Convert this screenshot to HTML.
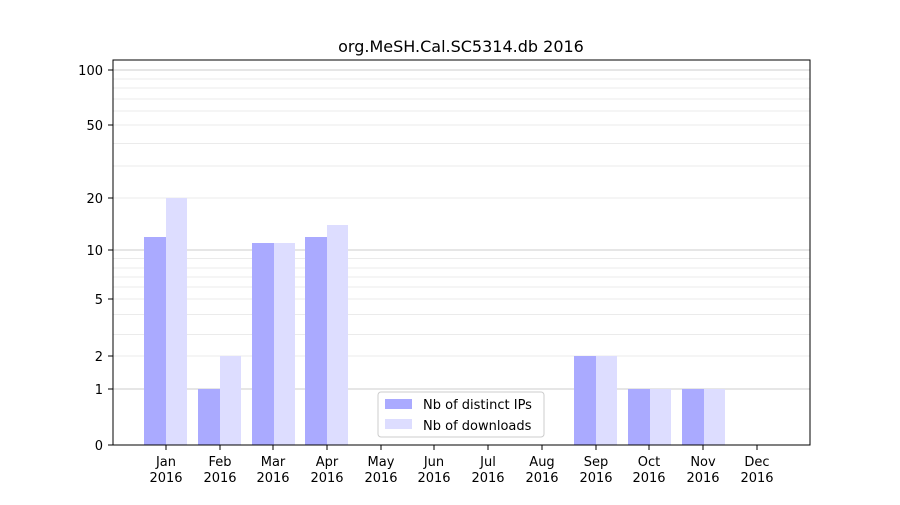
<!DOCTYPE html>
<html><head><meta charset="utf-8"><style>body{margin:0;background:#fff}</style></head><body>
<svg width="900" height="500" xmlns="http://www.w3.org/2000/svg" font-family="DejaVu Sans, Liberation Sans, sans-serif">
<rect width="900" height="500" fill="#fff"/>
<g stroke="#ebebeb" stroke-width="1">
<line x1="113" x2="810" y1="334.5" y2="334.5"/><line x1="113" x2="810" y1="314.5" y2="314.5"/>
<line x1="113" x2="810" y1="287" y2="287"/><line x1="113" x2="810" y1="277" y2="277"/>
<line x1="113" x2="810" y1="268" y2="268"/><line x1="113" x2="810" y1="258.5" y2="258.5"/>
<line x1="113" x2="810" y1="166" y2="166"/><line x1="113" x2="810" y1="143.5" y2="143.5"/>
<line x1="113" x2="810" y1="111" y2="111"/><line x1="113" x2="810" y1="99" y2="99"/>
<line x1="113" x2="810" y1="88" y2="88"/><line x1="113" x2="810" y1="79" y2="79"/>
<line x1="113" x2="810" y1="356" y2="356"/><line x1="113" x2="810" y1="299" y2="299"/>
<line x1="113" x2="810" y1="198" y2="198"/><line x1="113" x2="810" y1="125" y2="125"/>
</g>
<g stroke="#cccccc" stroke-width="1">
<line x1="113" x2="810" y1="389" y2="389"/><line x1="113" x2="810" y1="250" y2="250"/><line x1="113" x2="810" y1="70" y2="70"/>
</g>
<g fill="#aaaaff">
<rect x="144" y="237" width="22" height="208"/>
<rect x="198" y="389" width="22" height="56"/>
<rect x="252" y="243" width="22" height="202"/>
<rect x="305" y="237" width="22" height="208"/>
<rect x="574" y="356" width="22" height="89"/>
<rect x="628" y="389" width="22" height="56"/>
<rect x="682" y="389" width="22" height="56"/>
</g>
<g fill="#ddddff">
<rect x="166" y="198" width="21" height="247"/>
<rect x="220" y="356" width="21" height="89"/>
<rect x="274" y="243" width="21" height="202"/>
<rect x="327" y="225" width="21" height="220"/>
<rect x="596" y="356" width="21" height="89"/>
<rect x="650" y="389" width="21" height="56"/>
<rect x="704" y="389" width="21" height="56"/>
</g>
<rect x="113" y="60" width="697" height="385" fill="none" stroke="#000" stroke-width="1"/>
<g stroke="#000"><line x1="108" x2="113" y1="445" y2="445"/><line x1="108" x2="113" y1="389" y2="389"/><line x1="108" x2="113" y1="356" y2="356"/><line x1="108" x2="113" y1="299" y2="299"/><line x1="108" x2="113" y1="250" y2="250"/><line x1="108" x2="113" y1="198" y2="198"/><line x1="108" x2="113" y1="125" y2="125"/><line x1="108" x2="113" y1="70" y2="70"/></g>
<g font-size="13" text-anchor="end" fill="#000">
<text x="103" y="450">0</text><text x="103" y="394">1</text><text x="103" y="361">2</text><text x="103" y="304">5</text><text x="103" y="255">10</text><text x="103" y="203">20</text><text x="103" y="130">50</text><text x="103" y="75">100</text>
</g>
<g font-size="13" text-anchor="middle" fill="#000">
<text x="166" y="466">Jan</text><text x="166" y="482">2016</text>
<text x="220" y="466">Feb</text><text x="220" y="482">2016</text>
<text x="273" y="466">Mar</text><text x="273" y="482">2016</text>
<text x="327" y="466">Apr</text><text x="327" y="482">2016</text>
<text x="381" y="466">May</text><text x="381" y="482">2016</text>
<text x="434" y="466">Jun</text><text x="434" y="482">2016</text>
<text x="488" y="466">Jul</text><text x="488" y="482">2016</text>
<text x="542" y="466">Aug</text><text x="542" y="482">2016</text>
<text x="596" y="466">Sep</text><text x="596" y="482">2016</text>
<text x="649" y="466">Oct</text><text x="649" y="482">2016</text>
<text x="703" y="466">Nov</text><text x="703" y="482">2016</text>
<text x="757" y="466">Dec</text><text x="757" y="482">2016</text>
</g>
<g stroke="#000">
<line x1="166" x2="166" y1="445" y2="450"/><line x1="220" x2="220" y1="445" y2="450"/><line x1="273" x2="273" y1="445" y2="450"/><line x1="327" x2="327" y1="445" y2="450"/><line x1="381" x2="381" y1="445" y2="450"/><line x1="434" x2="434" y1="445" y2="450"/><line x1="488" x2="488" y1="445" y2="450"/><line x1="542" x2="542" y1="445" y2="450"/><line x1="596" x2="596" y1="445" y2="450"/><line x1="649" x2="649" y1="445" y2="450"/><line x1="703" x2="703" y1="445" y2="450"/><line x1="757" x2="757" y1="445" y2="450"/>
</g>
<text x="461" y="52" font-size="16" text-anchor="middle">org.MeSH.Cal.SC5314.db 2016</text>
<rect x="378" y="392" width="166" height="45" rx="3" fill="#fff" fill-opacity="0.8" stroke="#ccc"/>
<rect x="385" y="399" width="27" height="10" fill="#aaaaff"/>
<rect x="385" y="419" width="27" height="10" fill="#ddddff"/>
<text x="423" y="409" font-size="13">Nb of distinct IPs</text>
<text x="423" y="430" font-size="13">Nb of downloads</text>
</svg>
</body></html>
